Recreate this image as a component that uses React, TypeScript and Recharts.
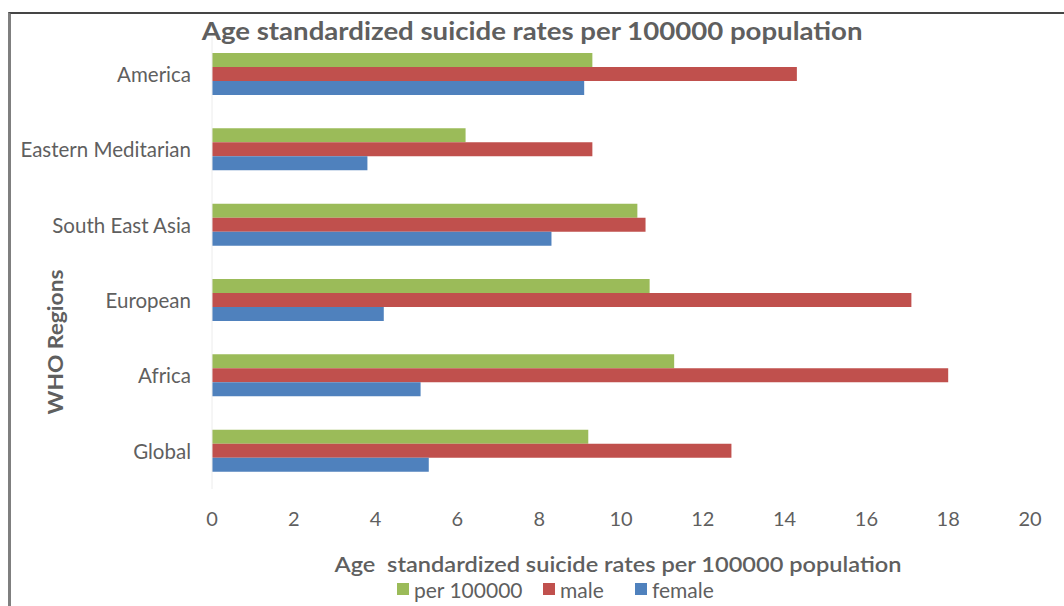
import { BarChart, Bar, XAxis, YAxis, Legend, Label } from 'recharts'

// ── Data ─────────────────────────────────────────────────────────────────────
const REGIONS = ['America', 'Eastern Meditarian', 'South East Asia', 'European', 'Africa', 'Global']
const PER_100000 = [9.3, 6.2, 10.4, 10.7, 11.3, 9.2]
const MALE = [14.3, 9.3, 10.6, 17.1, 18.0, 12.7]
const FEMALE = [9.1, 3.8, 8.3, 4.2, 5.1, 5.3]
const X_TICKS = [0, 2, 4, 6, 8, 10, 12, 14, 16, 18, 20]

const SERIES = [
  { key: 'per100000', name: 'per 100000', color: '#9bbb59', slot: 146 },
  { key: 'male', name: 'male', color: '#c0504d', slot: 92 },
  { key: 'female', name: 'female', color: '#4f81bd', slot: 100 },
]

const FONT = 'Lato, "Open Sans", sans-serif'
const TEXT = '#5f5f5f'

const data = REGIONS.map((region, i) => ({
  region,
  per100000: PER_100000[i],
  male: MALE[i],
  female: FEMALE[i],
}))

// ── Legend ───────────────────────────────────────────────────────────────────

function LegendContent() {
  return (
    <div style={{ height: 34, display: 'flex', alignItems: 'center', paddingLeft: 397, fontFamily: FONT, fontSize: 21, color: TEXT }}>
      {SERIES.map((s) => (
        <div key={s.key} style={{ display: 'flex', alignItems: 'center', width: s.slot }}>
          <span style={{ width: 12, height: 12, background: s.color, display: 'inline-block', marginRight: 5 }} />
          <span>{s.name}</span>
        </div>
      ))}
    </div>
  )
}

// ── Main ─────────────────────────────────────────────────────────────────────

export default function App() {
  return (
    <div style={{ position: 'absolute', left: 0, top: 0, width: 1064, height: 606, background: '#fff', overflow: 'hidden' }}>
      {/* frame */}
      <div style={{ position: 'absolute', left: 8, top: 12, width: 1056, height: 600, borderTop: '2px solid #454545', borderLeft: '3px solid #7f7f7f', boxSizing: 'border-box' }} />

      <div style={{ position: 'absolute', left: 0, top: 16, width: 1064, textAlign: 'center', fontFamily: FONT, fontWeight: 700, fontSize: 24, color: TEXT, lineHeight: '30px', transform: 'scaleX(1.15)', transformOrigin: '531px 0' }}>
        Age standardized suicide rates per 100000 population
      </div>

      <div style={{ position: 'absolute', left: 0, top: 0 }}>
        <BarChart
          width={1064}
          height={606}
          data={data}
          layout="vertical"
          margin={{ top: 37, right: 34, bottom: 0, left: 0 }}
          barCategoryGap={16}
          barGap={0}
        >
          <XAxis
            type="number"
            domain={[0, 20]}
            ticks={X_TICKS}
            axisLine={false}
            tickLine={false}
            height={83}
            tickMargin={17}
            tick={{ fill: TEXT, fontSize: 20, fontFamily: FONT }}
          >
            <Label
              content={(props: any) => {
                const vb = props.viewBox
                const cx = vb.x + vb.width / 2 - 3
                return (
                  <text
                    x={cx}
                    y={vb.y + 74}
                    textAnchor="middle"
                    dominantBaseline="central"
                    textLength={567}
                    lengthAdjust="spacingAndGlyphs"
                    fill={TEXT}
                    fontSize={21}
                    fontWeight={600}
                    fontFamily={FONT}
                    xmlSpace="preserve"
                  >
                    Age  standardized suicide rates per 100000 population
                  </text>
                )
              }}
            />
          </XAxis>
          <YAxis
            type="category"
            dataKey="region"
            width={212}
            axisLine={{ stroke: '#ececec' }}
            tickLine={false}
            tickMargin={15}
            tick={{ fill: TEXT, fontSize: 20.5, fontFamily: FONT }}
          >
            <Label
              content={() => (
                <text
                  x={54}
                  y={342}
                  transform="rotate(-90 54 342)"
                  textAnchor="middle"
                  dominantBaseline="central"
                  textLength={145}
                  lengthAdjust="spacingAndGlyphs"
                  fill={TEXT}
                  fontSize={21}
                  fontWeight={700}
                  fontFamily={FONT}
                >
                  WHO Regions
                </text>
              )}
            />
          </YAxis>
          <Legend verticalAlign="bottom" content={() => <LegendContent />} />
          {SERIES.map((s) => (
            <Bar key={s.key} dataKey={s.key} name={s.name} fill={s.color} isAnimationActive={false} />
          ))}
        </BarChart>
      </div>
    </div>
  )
}
